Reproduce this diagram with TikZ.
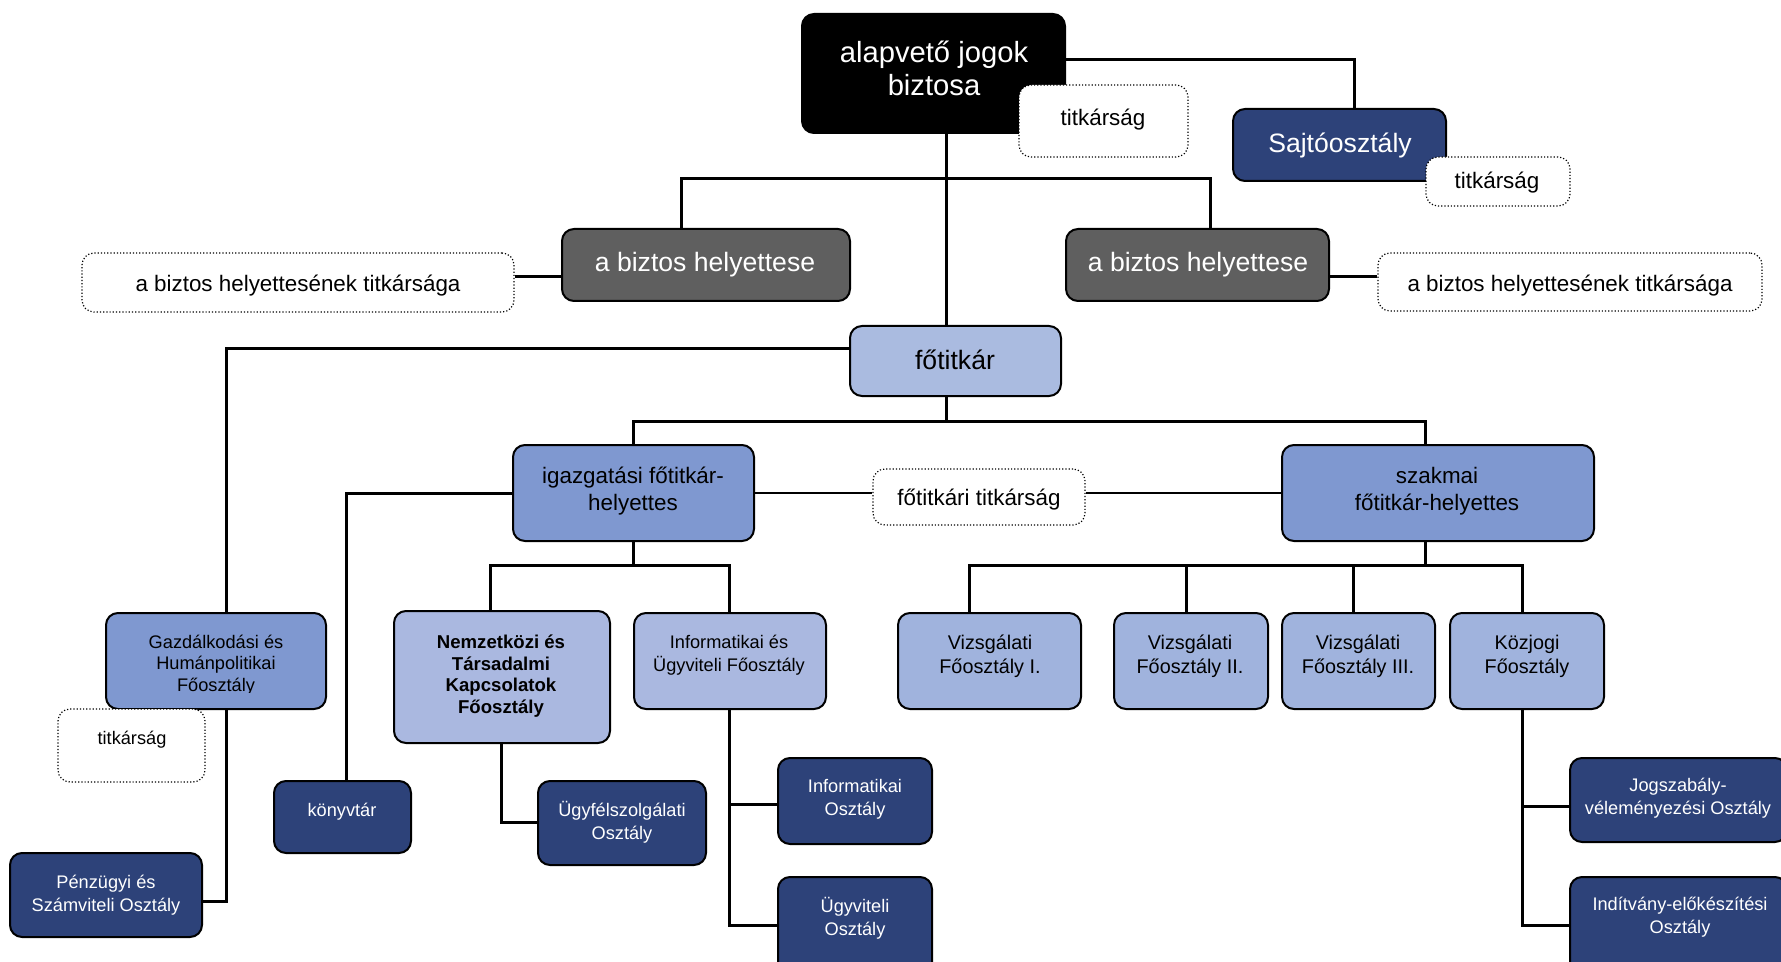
\documentclass[tikz,border=0pt]{standalone}
\usepackage{fontspec}
\setmainfont{Liberation Sans}
\usetikzlibrary{fit}
\pgfdeclarelayer{background}
\pgfsetlayers{background,main}
\definecolor{navy}{RGB}{45,66,121}
\definecolor{dgray}{RGB}{95,95,95}
\definecolor{lblue}{RGB}{170,187,224}
\definecolor{mblue}{RGB}{127,152,208}
\definecolor{pblue}{RGB}{170,184,224}
\definecolor{vblue}{RGB}{160,179,221}
\tikzset{
  bx/.style={draw=black, line width=1pt, rounded corners=6pt, inner sep=0pt},
  blackbox/.style={bx, fill=black},
  graybox/.style={bx, fill=dgray},
  navybox/.style={bx, fill=navy},
  fobox/.style={bx, fill=lblue},
  midbox/.style={bx, fill=mblue},
  palebox/.style={bx, fill=pblue},
  vizbox/.style={bx, fill=vblue},
  dotbox/.style={draw=black, line width=0.6pt, densely dotted, rounded corners=6pt, fill=white, inner sep=0pt},
  conn/.style={line width=1.5pt},
  thinconn/.style={line width=0.7pt},
  tx/.style={inner sep=0pt, align=center},
  wt/.style={tx, text=white},
  ttop/.style={font=\fontsize{14.6}{16.5}\selectfont},
  tbig/.style={font=\fontsize{13.3}{15}\selectfont},
  tmed/.style={font=\fontsize{11.2}{13.6}\selectfont},
  tsmall/.style={font=\fontsize{9.1}{11.3}\selectfont},
  tgaz/.style={font=\fontsize{9.1}{10.6}\selectfont},
  tviz/.style={font=\fontsize{9.9}{12}\selectfont},
  tbold/.style={font=\fontsize{9.3}{10.8}\selectfont\bfseries},
}
\newcommand{\orgbox}[6]{\node[#1, fit={(#3,#4) (#5,#6)}] (#2) {};}
\begin{document}
\begin{tikzpicture}[x=0.5pt, y=-0.5pt]
\useasboundingbox (0,0) rectangle (1781,962);
\clip (0,0) rectangle (1781,962);

% boxes
\orgbox{blackbox}{top}{802}{14}{1065}{133}
\node[wt, ttop] (top-t) at (934,68) {alapvető jogok\\biztosa};
\orgbox{dotbox}{tit1}{1019}{85}{1188}{157}
\node[tx, tmed] (tit1-t) at (1103,120) {titkárság};

\orgbox{navybox}{sajto}{1233}{109}{1446}{181}
\node[wt, tbig] (sajto-t) at (1340,145) {Sajtóosztály};
\orgbox{dotbox}{tit2}{1426}{157}{1570}{206}
\node[tx, tmed] (tit2-t) at (1497,183) {titkárság};

\orgbox{graybox}{hely1}{562}{229}{850}{301}
\node[wt, tbig] (hely1-t) at (705,265) {a biztos helyettese};
\orgbox{graybox}{hely2}{1066}{229}{1329}{301}
\node[wt, tbig] (hely2-t) at (1198,265) {a biztos helyettese};

\orgbox{dotbox}{htit1}{82}{253}{514}{312}
\node[tx, tmed] (htit1-t) at (298,286) {a biztos helyettesének titkársága};
\orgbox{dotbox}{htit2}{1378}{253}{1762}{311}
\node[tx, tmed] (htit2-t) at (1570,286) {a biztos helyettesének titkársága};

\orgbox{fobox}{fotitkar}{850}{326}{1061}{396}
\node[tx, tbig] (fotitkar-t) at (955,360) {főtitkár};

\orgbox{midbox}{igaz}{513}{445}{754}{541}
\node[tx, tmed] (igaz-t) at (633,491) {igazgatási főtitkár-\\helyettes};
\orgbox{dotbox}{ftit}{873}{469}{1085}{525}
\node[tx, tmed] (ftit-t) at (979,500) {főtitkári titkárság};
\orgbox{midbox}{szak}{1282}{445}{1594}{541}
\node[tx, tmed] (szak-t) at (1437,491) {szakmai\\főtitkár-helyettes};

\orgbox{midbox}{gazd}{106}{613}{326}{709}
\begin{scope}
\clip (106,613) rectangle (326,692);
\node[tx, tgaz] (gazd-t) at (216,665) {Gazdálkodási és\\Humánpolitikai\\Főosztály};
\end{scope}
\orgbox{dotbox}{gtit}{58}{709}{205}{782}
\node[tx, tsmall] (gtit-t) at (132,740) {titkárság};
\orgbox{navybox}{penz}{10}{853}{202}{937}
\node[wt, tsmall] (penz-t) at (106,895) {Pénzügyi és\\Számviteli Osztály};
\orgbox{navybox}{konyv}{274}{781}{411}{853}
\node[wt, tsmall] (konyv-t) at (342,812) {könyvtár};

\orgbox{palebox}{nemz}{394}{611}{610}{743}
\node[tx, tbold] (nemz-t) at (501,676) {Nemzetközi és\\Társadalmi\\Kapcsolatok\\Főosztály};
\orgbox{navybox}{ugyf}{538}{781}{706}{865}
\node[wt, tsmall] (ugyf-t) at (622,822) {Ügyfélszolgálati\\Osztály};

\orgbox{palebox}{infu}{634}{613}{826}{709}
\node[tx, tsmall] (infu-t) at (729,655) {Informatikai és\\Ügyviteli Főosztály};
\orgbox{navybox}{info}{778}{758}{932}{844}
\node[wt, tsmall] (info-t) at (855,799) {Informatikai\\Osztály};
\orgbox{navybox}{ugyv}{778}{877}{932}{975}
\node[wt, tsmall] (ugyv-t) at (855,918) {Ügyviteli\\Osztály};

\orgbox{vizbox}{viz1}{898}{613}{1081}{709}
\node[tx, tviz] (viz1-t) at (990,656) {Vizsgálati\\Főosztály I.};
\orgbox{vizbox}{viz2}{1114}{613}{1268}{709}
\node[tx, tviz] (viz2-t) at (1190,656) {Vizsgálati\\Főosztály II.};
\orgbox{vizbox}{viz3}{1282}{613}{1435}{709}
\node[tx, tviz] (viz3-t) at (1358,656) {Vizsgálati\\Főosztály III.};
\orgbox{vizbox}{kozj}{1450}{613}{1604}{709}
\node[tx, tviz] (kozj-t) at (1527,656) {Közjogi\\Főosztály};

\orgbox{navybox}{jogs}{1570}{758}{1787}{842}
\node[wt, tsmall] (jogs-t) at (1678,798) {Jogszabály-\\véleményezési Osztály};
\orgbox{navybox}{indit}{1570}{877}{1787}{975}
\node[wt, tsmall] (indit-t) at (1680,917) {Indítvány-előkészítési\\Osztály};

% connector coordinates
\coordinate (cS) at (1354,60);
\coordinate (cT) at (946,179);
\coordinate (cH1) at (681,179);
\coordinate (cH2) at (1210,179);
\coordinate (cHT) at (0,277);
\coordinate (cG) at (226,349);
\coordinate (cF) at (946,421);
\coordinate (cF1) at (633,421);
\coordinate (cF2) at (1425,421);
\coordinate (cM) at (0,493);
\coordinate (cK) at (346,493);
\coordinate (cI) at (633,565);
\coordinate (cIa) at (490,565);
\coordinate (cIb) at (729,565);
\coordinate (cZ) at (1425,565);
\coordinate (cZa) at (969,565);
\coordinate (cZb) at (1186,565);
\coordinate (cZc) at (1353,565);
\coordinate (cZd) at (1522,565);
\coordinate (cP) at (226,901);
\coordinate (cN) at (501,822);
\coordinate (cU1) at (729,804);
\coordinate (cU2) at (729,925);
\coordinate (cJ1) at (1522,806);
\coordinate (cJ2) at (1522,925);

\begin{pgfonlayer}{background}
\draw[conn] (top.east |- cS) -- (cS) -- (sajto.north -| cS);
\draw[conn] (top.south -| cT) -- (fotitkar.north -| cT);
\draw[conn] (hely1.north -| cH1) -- (cH1) -- (cH2) -- (hely2.north -| cH2);
\draw[conn] (hely1.west |- cHT) -- (htit1.east |- cHT);
\draw[conn] (hely2.east |- cHT) -- (htit2.west |- cHT);
\draw[conn] (fotitkar.west |- cG) -- (cG) -- (gazd.north -| cG);
\draw[conn] (fotitkar.south -| cF) -- (cF);
\draw[conn] (igaz.north -| cF1) -- (cF1) -- (cF2) -- (szak.north -| cF2);
\draw[thinconn] (igaz.east |- cM) -- (ftit.west |- cM);
\draw[thinconn] (ftit.east |- cM) -- (szak.west |- cM);
\draw[conn] (igaz.west |- cK) -- (cK) -- (konyv.north -| cK);
\draw[conn] (igaz.south -| cI) -- (cI);
\draw[conn] (nemz.north -| cIa) -- (cIa) -- (cIb) -- (infu.north -| cIb);
\draw[conn] (szak.south -| cZ) -- (cZ);
\draw[conn] (viz1.north -| cZa) -- (cZa) -- (cZd) -- (kozj.north -| cZd);
\draw[conn] (viz2.north -| cZb) -- (cZb);
\draw[conn] (viz3.north -| cZc) -- (cZc);
\draw[conn] (gazd.south -| cP) -- (cP) -- (penz.east |- cP);
\draw[conn] (nemz.south -| cN) -- (cN) -- (ugyf.west |- cN);
\draw[conn] (infu.south -| cU1) -- (cU2) -- (ugyv.west |- cU2);
\draw[conn] (cU1) -- (info.west |- cU1);
\draw[conn] (kozj.south -| cJ1) -- (cJ2) -- (indit.west |- cJ2);
\draw[conn] (cJ1) -- (jogs.west |- cJ1);
\end{pgfonlayer}
\end{tikzpicture}
\end{document}
